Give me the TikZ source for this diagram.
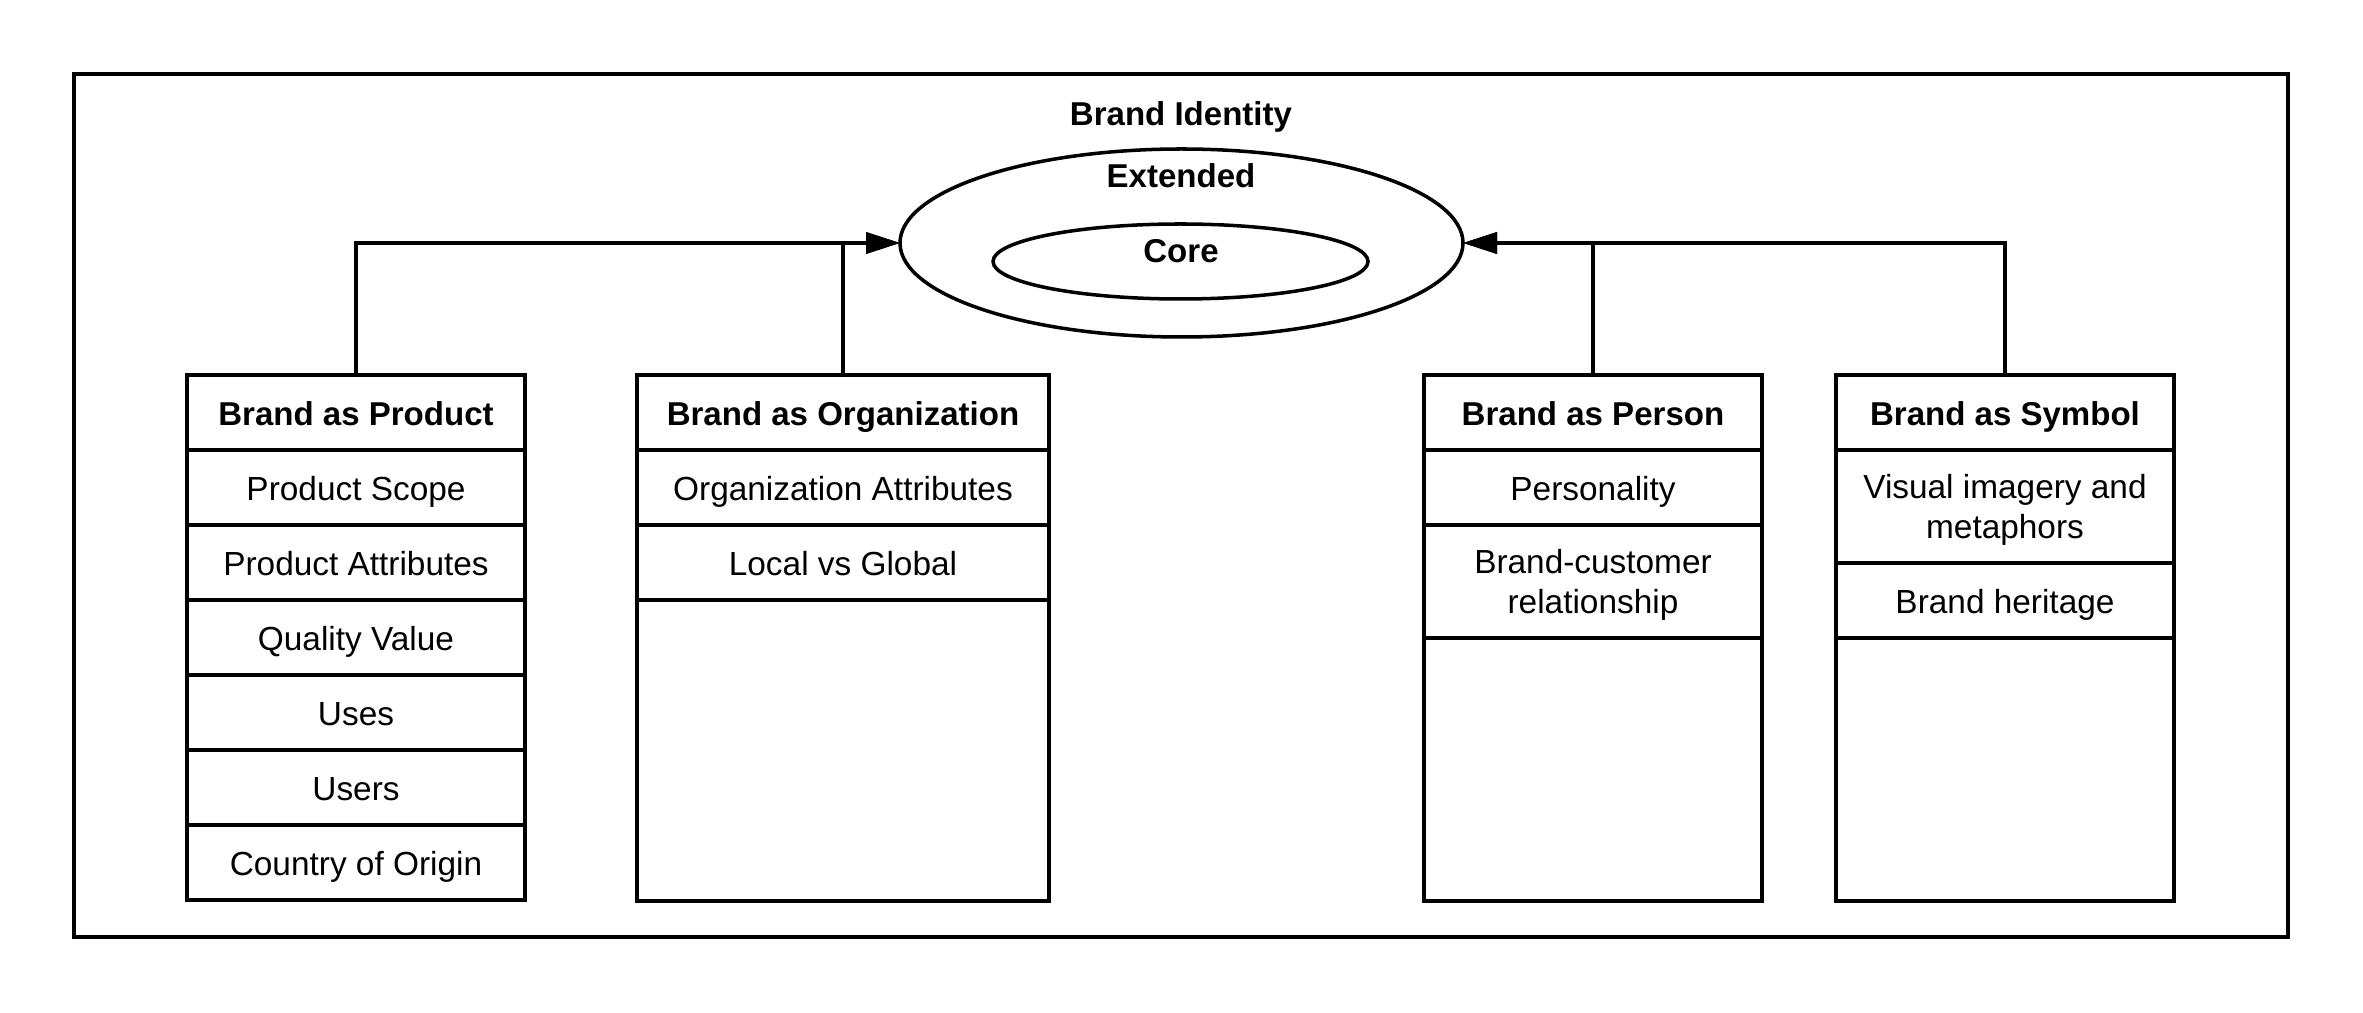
\documentclass[tikz,border=0pt]{standalone}
\usepackage{fontspec}
\setmainfont{Liberation Sans}
\usetikzlibrary{positioning,shapes.geometric,arrows.meta}

\tikzset{
  cell/.style={draw, line width=1pt, outer sep=0pt, inner sep=0pt, minimum height=0.75cm, align=center, text height=0.72em, text depth=0pt},
  cellwide/.style={draw, line width=1pt, outer sep=0pt, inner sep=0pt, minimum height=1.13cm, align=center, text depth=0pt},
  head/.style={cell, font=\fontsize{9.4pt}{11.3pt}\selectfont\bfseries},
  title/.style={font=\fontsize{9.4pt}{11.3pt}\selectfont\bfseries, inner sep=0pt, text height=0.72em, text depth=0pt},
  ring/.style={draw, ellipse, line width=1pt, outer sep=0pt, inner sep=0pt},
  link/.style={line width=1pt, -{Triangle[length=3.4mm, width=2.1mm]}}
}

\begin{document}
\begin{tikzpicture}[font=\fontsize{9.5pt}{11.4pt}\selectfont]
\useasboundingbox (0,0) rectangle (23.63,10.13);

% outer frame
\node[draw, line width=1pt, outer sep=0pt, minimum width=22.14cm, minimum height=8.63cm] (frame) at (11.81,5.075) {};

% identity ellipses
\node[title] (brandid) at (11.81,9.00) {Brand Identity};
\node[ring, minimum width=5.63cm, minimum height=1.88cm] (extended) at (11.815,7.70) {};
\node[ring, minimum width=3.75cm, minimum height=0.75cm] (core) at (11.805,7.515) {};
\node[title] (extlabel) at (11.81,8.38) {Extended};
\node[title] (corelabel) at (11.81,7.63) {Core};

% brand as product
\node[head, minimum width=3.38cm, anchor=north] (product) at (3.56,6.38) {Brand as Product};
\node[cell, minimum width=3.38cm, below=0pt of product] (scope) {Product Scope};
\node[cell, minimum width=3.38cm, below=0pt of scope] (attrib) {Product Attributes};
\node[cell, minimum width=3.38cm, below=0pt of attrib] (quality) {Quality Value};
\node[cell, minimum width=3.38cm, below=0pt of quality] (uses) {Uses};
\node[cell, minimum width=3.38cm, below=0pt of uses] (users) {Users};
\node[cell, minimum width=3.38cm, below=0pt of users] (origin) {Country of Origin};

% brand as organization
\node[head, minimum width=4.12cm, anchor=north] (org) at (8.43,6.38) {Brand as Organization};
\node[cell, minimum width=4.12cm, below=0pt of org] (orgattrib) {Organization Attributes};
\node[cell, minimum width=4.12cm, below=0pt of orgattrib] (local) {Local vs Global};
\node[cell, minimum width=4.12cm, minimum height=3.01cm, below=0pt of local] (orgrest) {};

% brand as person
\node[head, minimum width=3.38cm, anchor=north] (person) at (15.93,6.38) {Brand as Person};
\node[cell, minimum width=3.38cm, below=0pt of person] (personality) {Personality};
\node[cellwide, minimum width=3.38cm, below=0pt of personality] (relation) {Brand-customer\\relationship};
\node[cell, minimum width=3.38cm, minimum height=2.63cm, below=0pt of relation] (personrest) {};

% brand as symbol
\node[head, minimum width=3.38cm, anchor=north] (symbol) at (20.05,6.38) {Brand as Symbol};
\node[cellwide, minimum width=3.38cm, below=0pt of symbol] (imagery) {Visual imagery and\\metaphors};
\node[cell, minimum width=3.38cm, below=0pt of imagery] (heritage) {Brand heritage};
\node[cell, minimum width=3.38cm, minimum height=2.63cm, below=0pt of heritage] (symbolrest) {};

% connectors
\draw[link] (product.north) |- (extended.west);
\draw[link] (org.north) |- (extended.west);
\draw[link] (symbol.north) |- (extended.east);
\draw[link] (person.north) |- (extended.east);
\end{tikzpicture}
\end{document}
